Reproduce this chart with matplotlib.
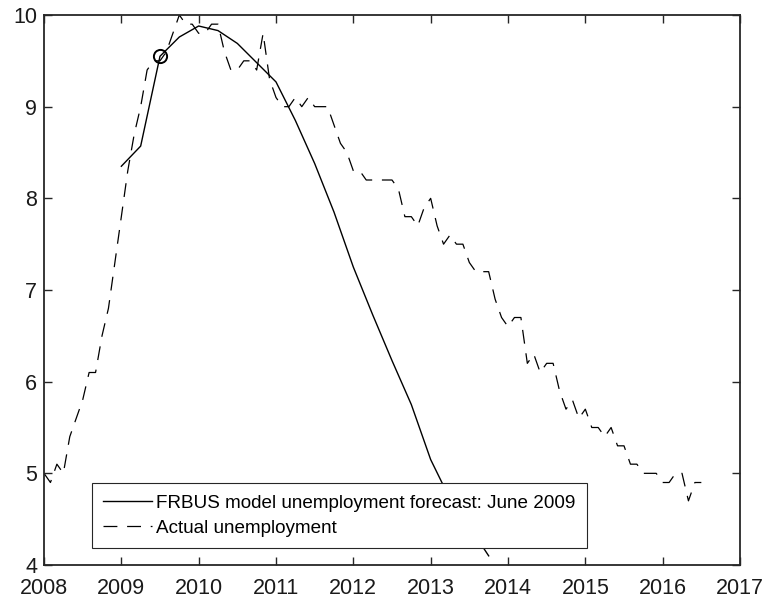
import matplotlib.pyplot as plt
import numpy as np

plt.rcParams['font.family'] = ['Liberation Sans', 'DejaVu Sans']
plt.rcParams['lines.scale_dashes'] = False

# FRBUS forecast (quarterly), June 2009
fc_time = [2009.0, 2009.25, 2009.5, 2009.75, 2010.0, 2010.25, 2010.5, 2010.75,
           2011.0, 2011.25, 2011.5, 2011.75, 2012.0, 2012.25, 2012.5, 2012.75,
           2013.0, 2013.25, 2013.5, 2013.75]
fc_rate = [8.35, 8.57, 9.55, 9.76, 9.88, 9.83, 9.69, 9.48,
           9.27, 8.85, 8.38, 7.85, 7.25, 6.73, 6.23, 5.75,
           5.15, 4.72, 4.42, 4.1]

# actual unemployment rate, monthly from Jan 2008
actual_rate = [5.0, 4.9, 5.1, 5.0, 5.4, 5.6, 5.8, 6.1, 6.1, 6.5, 6.8, 7.3,
               7.8, 8.3, 8.7, 9.0, 9.4, 9.5, 9.5, 9.6, 9.8, 10.0, 9.9, 9.9,
               9.8, 9.8, 9.9, 9.9, 9.6, 9.4, 9.4, 9.5, 9.5, 9.4, 9.8, 9.3,
               9.1, 9.0, 9.0, 9.1, 9.0, 9.1, 9.0, 9.0, 9.0, 8.8, 8.6, 8.5,
               8.3, 8.3, 8.2, 8.2, 8.2, 8.2, 8.2, 8.1, 7.8, 7.8, 7.7, 7.9,
               8.0, 7.7, 7.5, 7.6, 7.5, 7.5, 7.3, 7.2, 7.2, 7.2, 6.9, 6.7,
               6.6, 6.7, 6.7, 6.2, 6.3, 6.1, 6.2, 6.2, 5.9, 5.7, 5.8, 5.6,
               5.7, 5.5, 5.5, 5.4, 5.5, 5.3, 5.3, 5.1, 5.1, 5.0, 5.0, 5.0,
               4.9, 4.9, 5.0, 5.0, 4.7, 4.9, 4.9]
actual_time = 2008 + np.arange(len(actual_rate)) / 12

# forecast start point
start_time = 2009.5
start_rate = 9.55

fig = plt.figure(figsize=(7.63, 6.0), dpi=100)
ax = fig.add_axes([44/763, 35/600, 696/763, 550/600])

ax.plot(fc_time, fc_rate, color='black', lw=1.0,
        label='FRBUS model unemployment forecast: June 2009')
ax.plot(actual_time, actual_rate, color='black', lw=0.9, dashes=(10, 7),
        label='Actual unemployment')
ax.plot(start_time, start_rate, 'o', mfc='none', mec='black', ms=9.5, mew=1.4)

ax.set_xlim(2008, 2017)
ax.set_ylim(4, 10)
ax.set_xticks(range(2008, 2018))
ax.set_yticks(range(4, 11))

for s in ax.spines.values():
    s.set_color('#262626')
    s.set_linewidth(1.3)
ax.tick_params(direction='in', length=5.5, width=1.0, color='#262626',
               labelsize=15.5, labelcolor='#1a1a1a', top=True, right=True)
ax.tick_params(axis='x', pad=9)
ax.tick_params(axis='y', pad=5)

leg = ax.legend(loc='upper left', bbox_to_anchor=(92/763, 1 - 483/600),
                bbox_transform=fig.transFigure, fontsize=13.6, fancybox=False,
                edgecolor='#262626', framealpha=1, handlelength=2.6,
                handletextpad=0.2, borderpad=0.6, labelspacing=0.42,
                borderaxespad=0)
leg.get_frame().set_linewidth(0.8)

fig.savefig('out.png', dpi=100)
